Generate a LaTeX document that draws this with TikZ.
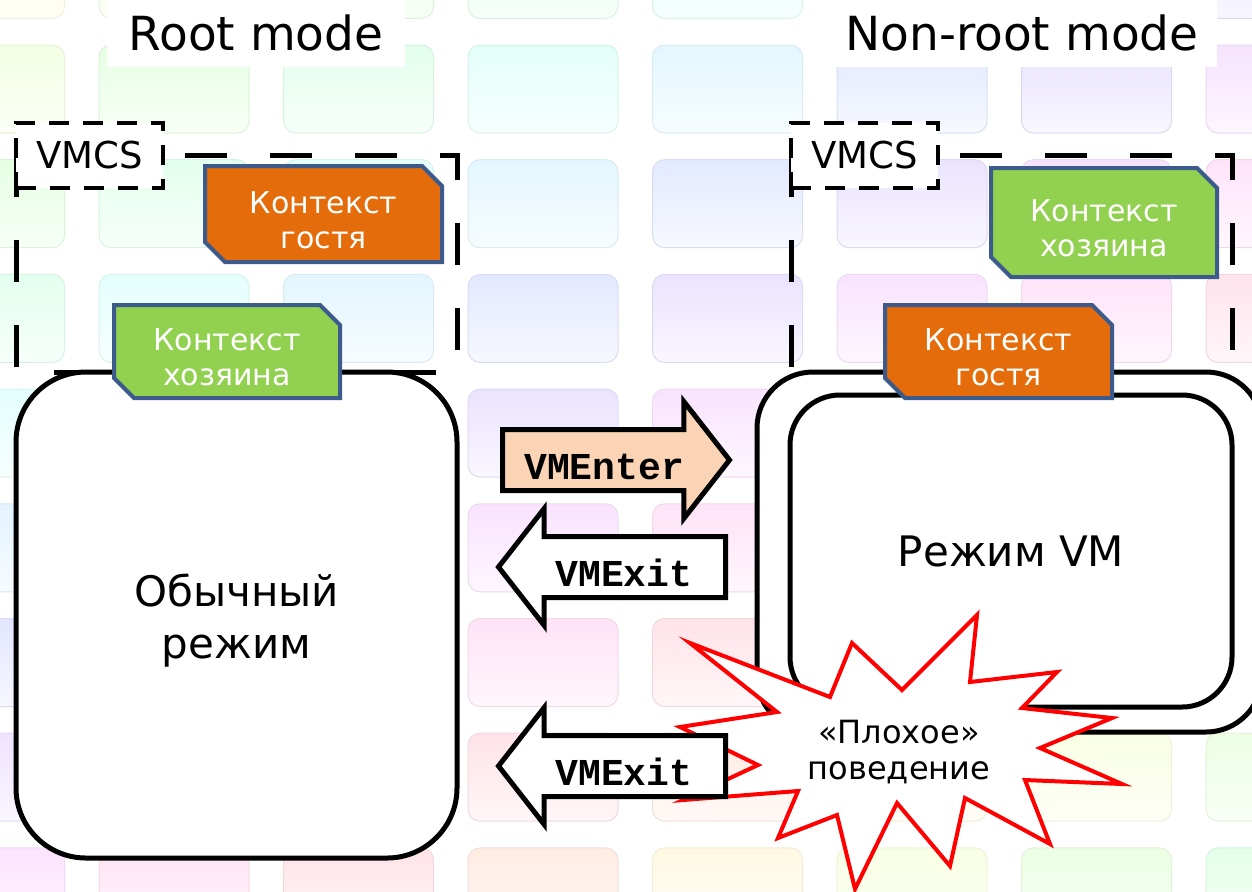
\documentclass[tikz,border=0pt]{standalone}
\usepackage{fontspec}
\setmainfont{DejaVu Sans}
\setmonofont{Liberation Mono}
\usetikzlibrary{shapes.misc,shapes.arrows}

\definecolor{guestorange}{RGB}{228,108,10}
\definecolor{hostgreen}{RGB}{146,208,80}
\definecolor{ctxborder}{RGB}{60,90,140}
\definecolor{enterfill}{RGB}{250,212,180}

\tikzset{
  tile/.style={rounded corners=6pt, line width=0.5pt, draw=tileb,
    top color=tilec, bottom color=tilec!30!white},
  title/.style={fill=white, minimum height=33.5pt, font=\fontsize{23.5}{27}\selectfont},
  area/.style={line width=2.5pt, dash pattern=on 21pt off 21.5pt},
  vmcs/.style={draw, fill=white, line width=2pt, dash pattern=on 10pt off 7pt,
    minimum width=73.5pt, minimum height=32.5pt, font=\fontsize{18.5}{22}\selectfont},
  mode/.style={draw, fill=white, line width=2.5pt, align=center,
    font=\fontsize{21}{26}\selectfont},
  modelabel/.style={align=center, yshift=-3pt, font=\fontsize{21}{26}\selectfont},
  ctx/.style={chamfered rectangle, chamfered rectangle corners={north east,south west},
    chamfered rectangle xsep=5pt, chamfered rectangle ysep=5pt,
    draw=ctxborder, line width=2pt, inner sep=0pt, text=white, align=center,
    text height=34.5pt, text depth=0.3pt, font=\fontsize{15}{17.5}\selectfont},
  vmarrow/.style={single arrow, draw, line width=2.5pt, line join=miter,
    single arrow head extend=14pt, single arrow tip angle=104,
    minimum height=113.5pt, text height=21.5pt, text depth=2.5pt, inner ysep=2pt,
    font=\ttfamily\bfseries\fontsize{19}{19}\selectfont},
  burst/.style={draw=red, fill=white, line width=2pt, line join=miter}
}

\begin{document}
\begin{tikzpicture}[x=0.5pt,y=-0.5pt]
  \clip (0,0) rectangle (1252,891);

  % pale tiles behind everything
  \foreach \c in {-1,...,6}
    \foreach \r in {-1,...,7}{
      \pgfmathsetmacro{\h}{mod(113+28*\c+30*\r,360)}
      \definecolor{tilehsb}{Hsb}{\h,0.11,1}
      \definecolor{tilebhsb}{Hsb}{\h,0.11,0.95}
      \colorlet{tilec}[rgb]{tilehsb}
      \colorlet{tileb}[rgb]{tilebhsb}
      \draw[tile] (99+184.5*\c,45+114.7*\r) rectangle ++(150,88);
    }

  % headings
  \node[title, minimum width=149pt] (root) at (256,33) {Root mode};
  \node[title, minimum width=195pt] (nonroot) at (1022,33) {Non-root mode};

  % VMCS areas
  \draw[area] (16,155) rectangle (457,372);
  \draw[area] (791,155) rectangle (1232,372);
  \node[vmcs] (vmcsL) at (89.5,155.5) {VMCS};
  \node[vmcs] (vmcsR) at (864.5,155.5) {VMCS};

  % modes
  \node[mode, rounded corners=35pt, minimum width=220.5pt, minimum height=243pt,
    label={[modelabel]center:{Обычный\\режим}}] (normal) at (236.5,615) {};
  \node[mode, rounded corners=28pt, minimum width=252.5pt, minimum height=180pt]
    (vmouter) at (1009.5,552) {};
  \node[mode, rounded corners=25pt, minimum width=221pt, minimum height=156pt]
    (vm) at (1011,551) {Режим VM};

  % saved contexts
  \node[ctx, fill=guestorange, minimum width=118.5pt, minimum height=48pt]
    (guestL) at (323.5,214) {Контекст\\гостя};
  \node[ctx, fill=hostgreen, minimum width=113pt, minimum height=46.5pt]
    (hostL) at (227,351.5) {Контекст\\хозяина};
  \node[ctx, fill=hostgreen, minimum width=113pt, minimum height=54.5pt]
    (hostR) at (1104,222.5) {Контекст\\хозяина};
  \node[ctx, fill=guestorange, minimum width=113.5pt, minimum height=46.5pt]
    (guestR) at (998.5,351.5) {Контекст\\гостя};

  % transitions
  \node[vmarrow, fill=enterfill, anchor=tail] (enter) at (500,460) {VMEnter};
  \node[vmarrow, fill=white, shape border rotate=180, anchor=tail] (exit) at (728,567) {VMExit};

  \draw[burst] (690,643) -- (830,697) -- (852,643) -- (902,690) -- (977,615)
    -- (970,682) -- (1057,672) -- (1022,708) -- (1112,718) -- (1040,748)
    -- (1122,784) -- (1025,780) -- (1050,844) -- (965,798) -- (950,866)
    -- (897,803) -- (855,889) -- (837,815) -- (778,838) -- (798,791)
    -- (683,800) -- (758,765) -- (680,727) -- (777,712) -- cycle;
  \node[align=center, font=\fontsize{16}{18}\selectfont] (bad) at (899,752)
    {«Плохое»\\поведение};

  \node[vmarrow, fill=white, shape border rotate=180, anchor=tail] (fault) at (728,766) {VMExit};
\end{tikzpicture}
\end{document}
